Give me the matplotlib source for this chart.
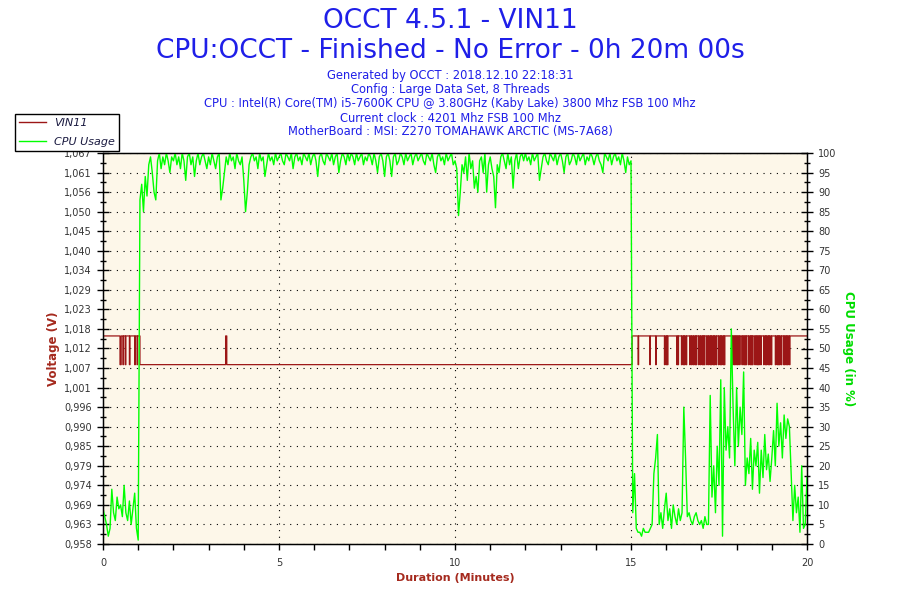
#!/usr/bin/env python3
"""OCCT VIN11 voltage / CPU usage log chart."""

import numpy as np
import matplotlib

matplotlib.use("Agg")
import matplotlib.pyplot as plt
from matplotlib.lines import Line2D
from matplotlib.ticker import AutoMinorLocator, FixedLocator, MultipleLocator

TITLE = "OCCT 4.5.1 - VIN11"
SUBTITLE = "CPU:OCCT - Finished - No Error - 0h 20m 00s"
INFO_LINES = [
    "Generated by OCCT : 2018.12.10 22:18:31",
    "Config : Large Data Set, 8 Threads",
    "CPU : Intel(R) Core(TM) i5-7600K CPU @ 3.80GHz (Kaby Lake) 3800 Mhz FSB 100 Mhz",
    "Current clock : 4201 Mhz FSB 100 Mhz",
    "MotherBoard : MSI: Z270 TOMAHAWK ARCTIC (MS-7A68)",
]

# left axis (voltage) range and its printed labels
VOLT_MIN = 0.958
VOLT_MAX = 1.067
VOLT_TICK_LABELS = [
    "0,958", "0,963", "0,969", "0,974", "0,979", "0,985", "0,990",
    "0,996", "1,001", "1,007", "1,012", "1,018", "1,023", "1,029",
    "1,034", "1,040", "1,045", "1,050", "1,056", "1,061", "1,067",
]

DURATION_S = 1200
VIN_HIGH = 1.016
VIN_LOW = 1.008
# seconds where VIN11 sits at the low level (start, end)
VIN_LOW_START = [
    29, 34, 38, 45, 54, 58, 63, 211,
    912, 932, 942, 957, 960, 962, 978, 980, 986, 989, 991, 994,
    1000, 1003, 1006, 1009, 1011, 1015, 1018, 1021, 1023, 1025,
    1029, 1032, 1035, 1037, 1040, 1042, 1045, 1049, 1052, 1054,
    1057, 1059, 1072, 1075, 1077, 1080, 1082, 1085, 1089, 1092,
    1094, 1096, 1100, 1103, 1105, 1107, 1111, 1114, 1116, 1118,
    1121, 1126, 1129, 1131, 1134, 1136, 1139, 1146, 1149, 1151,
    1153, 1156, 1160, 1162, 1165, 1167, 1170,
]
VIN_LOW_END = [
    31, 35, 39, 46, 55, 59, 209, 902,
    913, 933, 943, 958, 961, 963, 979, 981, 987, 990, 992, 995,
    1001, 1004, 1007, 1010, 1012, 1016, 1019, 1022, 1024, 1026,
    1030, 1033, 1036, 1038, 1041, 1043, 1046, 1050, 1053, 1055,
    1058, 1060, 1073, 1076, 1078, 1081, 1083, 1086, 1090, 1093,
    1095, 1097, 1101, 1104, 1106, 1108, 1112, 1115, 1117, 1119,
    1122, 1127, 1130, 1132, 1135, 1137, 1140, 1147, 1150, 1152,
    1154, 1157, 1161, 1163, 1166, 1168, 1171,
]

# CPU usage (%), one sample every 3 s, one row per minute
CPU_STEP_S = 3
CPU_USAGE = [
    9, 7, 5, 2, 4, 14, 8, 6, 12, 9, 10, 7, 15, 8, 6, 11, 5, 9, 13, 4,
    1, 88, 92, 85, 94, 89, 97, 99, 95, 90, 88, 98, 100, 96, 99, 97, 100, 98, 95, 99,
    98, 100, 97, 99, 96, 100, 98, 93, 99, 100, 97, 99, 94, 98, 100, 97, 99, 100, 98, 96,
    99, 97, 100, 98, 96, 99, 100, 88, 91, 95, 99, 97, 100, 98, 99, 96, 100, 98, 97, 99,
    93, 85, 90, 97, 99, 100, 98, 99, 96, 100, 98, 99, 94, 97, 100, 98, 99, 97, 100, 98,
    99, 100, 98, 97, 100, 99, 98, 100, 96, 99, 100, 98, 99, 97, 100, 99, 98, 100, 97, 99,
    100, 98, 94, 99, 100, 98, 97, 100, 99, 98, 100, 97, 99, 100, 95, 98, 100, 99, 97, 100,
    98, 100, 99, 97, 100, 98, 99, 100, 97, 99, 98, 100, 99, 97, 100, 98, 95, 99, 100, 98,
    94, 99, 100, 98, 94, 99, 100, 97, 98, 100, 99, 97, 100, 98, 99, 100, 97, 99, 100, 98,
    99, 100, 98, 97, 100, 99, 98, 100, 97, 95, 99, 100, 98, 99, 97, 100, 98, 99, 100, 97,
    98, 96, 84, 90, 97, 95, 99, 93, 100, 96, 98, 91, 94, 90, 98, 99, 95, 100, 90, 97,
    99, 96, 94, 86, 97, 95, 99, 100, 98, 96, 100, 97, 99, 91, 98, 100, 96, 99, 100, 98,
    100, 98, 99, 97, 100, 98, 99, 100, 93, 96, 99, 100, 98, 97, 100, 99, 98, 100, 97, 99,
    100, 98, 95, 99, 100, 97, 98, 100, 99, 97, 100, 98, 99, 100, 97, 99, 98, 100, 99, 97,
    99, 100, 98, 97, 95, 100, 99, 98, 100, 97, 99, 100, 98, 99, 97, 100, 98, 95, 99, 97,
    98, 8, 18, 4, 3, 3, 2, 4, 3, 3, 3, 4, 5, 18, 22, 28, 5, 8, 4, 9,
    13, 6, 9, 4, 10, 7, 5, 9, 6, 8, 35, 22, 7, 8, 6, 5, 7, 8, 6, 5,
    6, 4, 7, 5, 5, 38, 12, 20, 8, 25, 15, 42, 2, 40, 24, 30, 22, 55, 35, 20,
    40, 25, 35, 28, 44, 15, 22, 18, 27, 14, 24, 20, 26, 13, 24, 17, 28, 19, 23, 16,
    22, 29, 20, 36, 25, 31, 22, 33, 27, 32, 30, 18, 6, 15, 8, 12, 3, 20, 4, 5,
    17,
]

BLUE = "#1f1fe8"
RED = "#9c1616"
RED_LABEL = "#a52a1e"
GREEN = "#00ff00"
GREEN_LABEL = "#00dd00"
PLOT_BG = "#fdf7e9"
TICK_COLOR = "#333333"

fig = plt.figure(figsize=(9, 6), dpi=100)
ax = fig.add_axes([103 / 900, 1 - 544 / 600, 704 / 900, 391 / 600])
ax.set_facecolor(PLOT_BG)

# VIN11 step trace built from the low-level intervals
vin_t = np.arange(DURATION_S + 1)
vin_v = np.full(vin_t.shape, VIN_HIGH)
for start, end in zip(VIN_LOW_START, VIN_LOW_END):
    vin_v[(vin_t >= start) & (vin_t < end)] = VIN_LOW
ax.plot(vin_t / 60, vin_v, color=RED, lw=0.9, drawstyle="steps-post")

ax.set_xlim(0, DURATION_S / 60)
ax.set_ylim(VOLT_MIN, VOLT_MAX)
ax.yaxis.set_major_locator(FixedLocator(np.linspace(VOLT_MIN, VOLT_MAX, len(VOLT_TICK_LABELS))))
ax.set_yticklabels(VOLT_TICK_LABELS)
ax.yaxis.set_minor_locator(AutoMinorLocator(2))
ax.xaxis.set_major_locator(MultipleLocator(5))
ax.xaxis.set_minor_locator(MultipleLocator(1))
ax.tick_params(axis="y", which="major", direction="inout", length=8, width=1.0,
               labelsize=7, labelcolor=TICK_COLOR, pad=4)
ax.tick_params(axis="y", which="minor", direction="inout", length=5, width=1.0)
ax.tick_params(axis="x", which="major", direction="out", length=4, width=1.0,
               labelsize=7, labelcolor=TICK_COLOR, pad=6)
ax.tick_params(axis="x", which="minor", direction="out", length=4, width=1.0)
ax.grid(True, which="major", color="black", lw=0.8, linestyle=(0, (1, 5)))
ax.set_axisbelow(True)
for sp in ax.spines.values():
    sp.set_linewidth(1.0)

ax.set_ylabel("Voltage (V)", color=RED_LABEL, fontsize=8.5, fontweight="bold", labelpad=3)
ax.set_xlabel("Duration (Minutes)", color=RED_LABEL, fontsize=8, fontweight="bold", labelpad=4)

# CPU usage on the right axis, drawn on top
ax2 = ax.twinx()
cpu_t = np.arange(len(CPU_USAGE)) * CPU_STEP_S / 60
ax2.plot(cpu_t, CPU_USAGE, color=GREEN, lw=1.0)
ax2.set_ylim(0, 100)
ax2.yaxis.set_major_locator(MultipleLocator(5))
ax2.yaxis.set_minor_locator(MultipleLocator(2.5))
ax2.tick_params(axis="y", which="major", direction="inout", length=8, width=1.0,
                labelsize=7, labelcolor=TICK_COLOR, pad=4)
ax2.tick_params(axis="y", which="minor", direction="inout", length=5, width=1.0)
ax2.set_ylabel("CPU Usage (in %)", color=GREEN_LABEL, fontsize=8.5, fontweight="bold",
               rotation=270, labelpad=13)

# titles
fig.text(0.5, 1 - 21 / 600, TITLE, ha="center", va="center", fontsize=19, color=BLUE)
fig.text(0.5, 1 - 51 / 600, SUBTITLE, ha="center", va="center", fontsize=19, color=BLUE)
for i, line in enumerate(INFO_LINES):
    fig.text(0.5, 1 - (76 + 14 * i) / 600, line, ha="center", va="center",
             fontsize=8.3, color=BLUE)

handles = [Line2D([], [], color=RED, lw=1.0), Line2D([], [], color=GREEN, lw=1.0)]
leg = fig.legend(handles, ["VIN11", "CPU Usage"], loc="upper left",
                 bbox_to_anchor=(15 / 900, 1 - 114 / 600), fancybox=False,
                 edgecolor="black", framealpha=1, borderaxespad=0,
                 prop={"size": 8, "style": "italic"}, handlelength=2.4,
                 borderpad=0.35, labelspacing=0.85, handletextpad=0.8)
leg.get_frame().set_linewidth(1.0)
for txt in leg.get_texts():
    txt.set_color("#1a1a40")

fig.savefig("out.png", dpi=100)
